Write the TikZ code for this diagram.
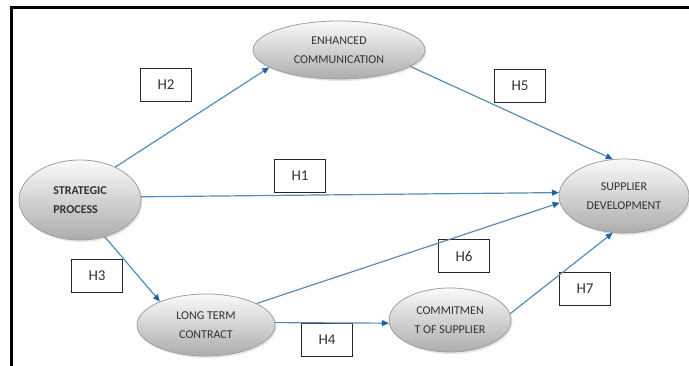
\documentclass[tikz,border=0pt]{standalone}
\usepackage{fontspec}
\setmainfont{Carlito}
\usetikzlibrary{arrows.meta,shapes.geometric,shadows}
\definecolor{linkblue}{RGB}{84,141,184}
\definecolor{tipblue}{RGB}{30,100,165}
\definecolor{txtgray}{RGB}{50,50,50}
\begin{document}
\begin{tikzpicture}[x=1pt,y=-1pt,
  oval/.style={ellipse, draw=gray!75, line width=0.8pt, top color=gray!4, bottom color=gray!65,
    inner sep=0pt, font=\fontsize{12}{19}\selectfont, text=txtgray, align=center,
    drop shadow={opacity=0.2, shadow xshift=1.5pt, shadow yshift=-2pt}},
  hbox/.style={draw=gray!30!black, line width=1.2pt, fill=white, minimum width=51pt,
    minimum height=33pt, inner sep=0pt, font=\fontsize{15}{18}\selectfont, text=txtgray},
  link/.style={draw=linkblue, line width=1.2pt, -{Triangle[length=7pt,width=6pt,color=tipblue]}}
]
\useasboundingbox (0,0) rectangle (689,366);
\draw[line width=2.4pt] (11.5,366) -- (11.5,7.5) -- (689,7.5);

% hypothesis boxes
\node[hbox] (b2) at (166,85) {H2};
\node[hbox] (b5) at (520,86) {H5};
\node[hbox] (b1) at (300,176) {H1};
\node[hbox] (b6) at (464,256) {H6};
\node[hbox] (b3) at (97,276) {H3};
\node[hbox] (b7) at (585,289) {H7};
\node[hbox] (b4) at (327,340) {H4};

% constructs
\node[oval, minimum width=172pt, minimum height=58pt] (ec) at (339,50) {ENHANCED\\COMMUNICATION};
\node[oval, minimum width=122pt, minimum height=80pt, align=left, font=\fontsize{12}{19}\selectfont\bfseries] (sp) at (80,200) {STRATEGIC\\PROCESS};
\node[oval, minimum width=130pt, minimum height=74pt] (sd) at (624,196) {SUPPLIER\\DEVELOPMENT};
\node[oval, minimum width=138pt, minimum height=62pt] (lt) at (206,325) {LONG TERM\\CONTRACT};
\node[oval, minimum width=122pt, minimum height=64pt] (cs) at (450,320) {COMMITMEN\\T OF SUPPLIER};

% paths
\draw[link] (sp.43) -- (ec.194);
\draw[link] (ec.347) -- (sd.107);
\draw[link] (sp.3) -- (sd.177);
\draw[link] (lt.23) -- (sd.186);
\draw[link] (sp.304) -- (lt.153);
\draw[link] (lt.2) -- (cs.183);
\draw[link] (cs.6) -- (sd.253);
\end{tikzpicture}
\end{document}
